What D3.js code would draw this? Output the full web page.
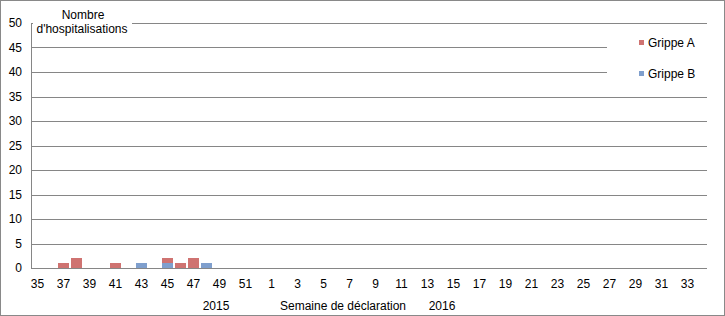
<!DOCTYPE html>
<html>
<head>
<meta charset="utf-8">
<script src="https://cdn.jsdelivr.net/npm/d3@7"></script>
<style>
  body { margin: 0; background: #fff; }
  text { font-family: "Liberation Sans", Arial, sans-serif; font-size: 12px; fill: #000; }
</style>
</head>
<body>
<script>
// weeks 35-52 of 2015, then 1-34 of 2016
const weeks2015 = [35,36,37,38,39,40,41,42,43,44,45,46,47,48,49,50,51,52];
const weeks2016 = [1,2,3,4,5,6,7,8,9,10,11,12,13,14,15,16,17,18,19,20,21,22,23,24,25,26,27,28,29,30,31,32,33,34];
const grippeA2015 = [0,0,1,2,0,0,1,0,0,0,1,1,2,0,0,0,0,0];
const grippeB2015 = [0,0,0,0,0,0,0,0,1,0,1,0,0,1,0,0,0,0];
const yTicks = [0,5,10,15,20,25,30,35,40,45,50];
const seriesNames = ['Grippe A', 'Grippe B'];
const seriesColors = ['#cf7371', '#7f9fcd'];

const W = 725, H = 316;
const rows = [];
weeks2015.forEach((w, i) => rows.push({key: '2015-' + w, week: w, a: grippeA2015[i], b: grippeB2015[i]}));
weeks2016.forEach(w => rows.push({key: '2016-' + w, week: w, a: 0, b: 0}));

const svg = d3.select('body').append('svg')
    .attr('width', W)
    .attr('height', H);

// outer frame
svg.append('rect')
    .attr('x', 0.5).attr('y', 0.5)
    .attr('width', W - 1).attr('height', H - 1)
    .attr('fill', '#fff')
    .attr('stroke', '#898989');

const x = d3.scaleBand()
    .domain(rows.map(d => d.key))
    .range([31, 707])
    .paddingInner(0.16)
    .paddingOuter(0.08);

const y = d3.scaleLinear().domain([0, 50]).range([268, 23]);
const py = v => Math.round(y(v)) + 0.5;

// grid
svg.append('g').selectAll('line')
    .data(yTicks)
    .enter().append('line')
    .attr('x1', 31).attr('x2', 707)
    .attr('y1', py).attr('y2', py)
    .attr('stroke', '#868686');

svg.append('line')
    .attr('x1', 31.5).attr('x2', 31.5)
    .attr('y1', py(50) - 0.5).attr('y2', py(0))
    .attr('stroke', '#868686');

svg.append('g').selectAll('text')
    .data(yTicks)
    .enter().append('text')
    .attr('x', 22)
    .attr('y', d => y(d))
    .attr('dy', '0.35em')
    .attr('text-anchor', 'end')
    .text(d => d);

// stacked bars
const stack = d3.stack().keys(['b', 'a'])(rows);
const colorOf = {a: seriesColors[0], b: seriesColors[1]};
svg.append('g').selectAll('g')
    .data(stack)
    .enter().append('g')
    .attr('fill', s => colorOf[s.key])
    .selectAll('rect')
    .data(s => s.filter(d => d[1] > d[0]))
    .enter().append('rect')
    .attr('x', d => Math.round(x(d.data.key)))
    .attr('width', Math.round(x.bandwidth()))
    .attr('y', d => Math.round(y(d[1])))
    .attr('height', d => Math.round(y(d[0])) - Math.round(y(d[1])));

// x labels, every other week
svg.append('g').selectAll('text')
    .data(rows.filter((d, i) => i % 2 === 0))
    .enter().append('text')
    .attr('x', d => x(d.key) + x.bandwidth() / 2)
    .attr('y', 288)
    .attr('text-anchor', 'middle')
    .text(d => d.week);

svg.append('text').attr('x', 216).attr('y', 310).attr('text-anchor', 'middle').text('2015');
svg.append('text').attr('x', 343).attr('y', 310).attr('text-anchor', 'middle').text('Semaine de déclaration');
svg.append('text').attr('x', 442).attr('y', 310).attr('text-anchor', 'middle').text('2016');

// y title box
svg.append('rect')
    .attr('x', 33).attr('y', 6)
    .attr('width', 99).attr('height', 30)
    .attr('fill', '#fff');
svg.append('text').attr('x', 83).attr('y', 19).attr('text-anchor', 'middle').text('Nombre');
svg.append('text').attr('x', 82).attr('y', 33).attr('text-anchor', 'middle').text("d'hospitalisations");

// legend
svg.append('rect')
    .attr('x', 607).attr('y', 30)
    .attr('width', 100).attr('height', 56)
    .attr('fill', '#fff');
const legend = svg.append('g').selectAll('g')
    .data(seriesNames)
    .enter().append('g')
    .attr('transform', (d, i) => 'translate(639,' + (40 + i * 31) + ')');
legend.append('rect')
    .attr('width', 5).attr('height', 5)
    .attr('fill', (d, i) => seriesColors[i]);
legend.append('text')
    .attr('x', 9).attr('y', 6.5)
    .text(d => d);
</script>
</body>
</html>
